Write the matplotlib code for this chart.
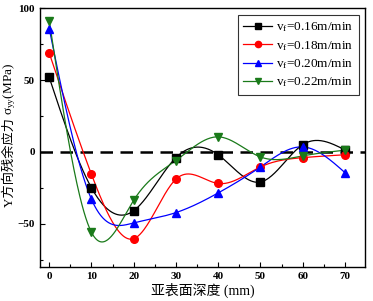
import numpy as np
import matplotlib
matplotlib.use("Agg")
import matplotlib.pyplot as plt
from matplotlib.ticker import MultipleLocator

depth = [0, 10, 20, 30, 40, 50, 60, 70]
s016 = [52, -25, -41, -4, -2, -21, 5, 1.4]
s018 = [69, -15.6, -60.5, -19, -22, -10.5, -4, -2]
s020 = [86, -33, -49.5, -42.3, -28.6, -10.5, 3.5, -14.4]
s022 = [91.5, -56, -33.7, -6, 10.5, -3.5, -2.8, 1.2]
labels = [r"v$_\mathregular{f}$=0.16m/min", r"v$_\mathregular{f}$=0.18m/min",
          r"v$_\mathregular{f}$=0.20m/min", r"v$_\mathregular{f}$=0.22m/min"]
colors = ["black", "red", "blue", "#1a7a1a"]
markers = ["s", "o", "^", "v"]


def natural_spline(x, y, n=300):
    x = np.asarray(x, float); y = np.asarray(y, float)
    m = len(x); h = np.diff(x)
    A = np.zeros((m, m)); b = np.zeros(m)
    A[0, 0] = A[-1, -1] = 1
    for i in range(1, m - 1):
        A[i, i - 1] = h[i - 1]; A[i, i] = 2 * (h[i - 1] + h[i]); A[i, i + 1] = h[i]
        b[i] = 6 * ((y[i + 1] - y[i]) / h[i] - (y[i] - y[i - 1]) / h[i - 1])
    M = np.linalg.solve(A, b)
    xs = np.linspace(x[0], x[-1], n)
    idx = np.clip(np.searchsorted(x, xs) - 1, 0, m - 2)
    x0 = x[idx]; x1 = x[idx + 1]; hh = x1 - x0
    ys = (M[idx] * (x1 - xs) ** 3 / (6 * hh) + M[idx + 1] * (xs - x0) ** 3 / (6 * hh)
          + (y[idx] / hh - M[idx] * hh / 6) * (x1 - xs)
          + (y[idx + 1] / hh - M[idx + 1] * hh / 6) * (xs - x0))
    return xs, ys


plt.rcParams['font.family'] = ['Liberation Serif', 'Noto Sans CJK SC']
plt.rcParams['mathtext.fontset'] = 'custom'
plt.rcParams['mathtext.rm'] = 'Liberation Serif'
plt.rcParams['mathtext.it'] = 'Liberation Serif:italic'

W, H = 373, 301
fig = plt.figure(figsize=(W / 100, H / 100), dpi=100)
ax = fig.add_axes([0.107, 0.114, 0.872, 0.858])

ax.axhline(0, color='black', lw=1.8, ls=(0, (5, 3)), zorder=1)
for ys, lab, c, mk in zip([s016, s018, s020, s022], labels, colors, markers):
    xs, yy = natural_spline(depth, ys)
    ax.plot(xs, yy, color=c, lw=0.9, zorder=2)
    ax.plot(depth, ys, ls='none', marker=mk, color=c, ms=5.5, zorder=3)
    ax.plot([], [], color=c, lw=0.9, marker=mk, ms=4.5, label=lab)

ax.set_xlim(-2.2, 74.8)
ax.set_ylim(-80, 100)
ax.xaxis.set_major_locator(MultipleLocator(10))
ax.xaxis.set_minor_locator(MultipleLocator(5))
ax.yaxis.set_major_locator(MultipleLocator(50))
ax.yaxis.set_minor_locator(MultipleLocator(25))
ax.tick_params(which='both', direction='in', labelsize=8)
ax.tick_params(which='major', length=3.5, width=0.8)
ax.tick_params(which='minor', length=2, width=0.8)
for lbl in ax.get_xticklabels() + ax.get_yticklabels():
    lbl.set_fontweight('bold')
for s in ax.spines.values():
    s.set_linewidth(1.0)

ax.set_xlabel("亚表面深度 (mm)", fontsize=10, labelpad=2)

# y label: Chinese part and math part as two rotated texts
t1 = fig.text(10 / W, 1 - 207 / H, "Y方向残余应力 ", rotation=90, ha='center',
              va='bottom', fontsize=9.5)
fig.canvas.draw()
bb = t1.get_window_extent(fig.canvas.get_renderer())
fig.text(10 / W, bb.y1 / H, r"σ$_\mathregular{yy}$(MPa)", rotation=90,
         ha='center', va='bottom', fontsize=9.5)

leg = ax.legend(loc='upper right', fontsize=9.5, frameon=True, fancybox=False,
                edgecolor='black', handlelength=2.2, handletextpad=0.3,
                borderpad=0.4, labelspacing=0.35, borderaxespad=0.5)
leg.get_frame().set_linewidth(0.8)

fig.savefig("out.png", dpi=100)
